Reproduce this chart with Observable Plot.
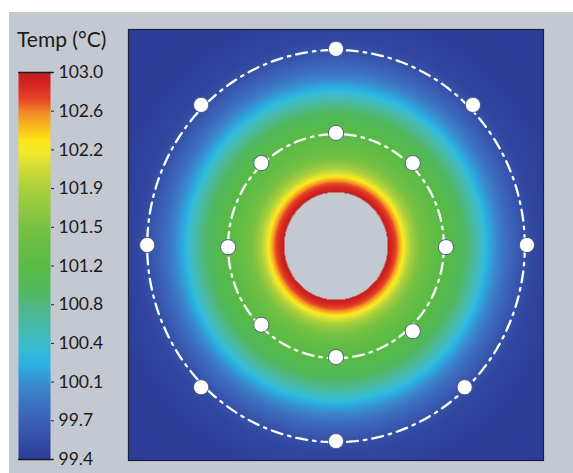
<!DOCTYPE html>
<html>
<head>
<meta charset="utf-8">
<script src="https://cdn.jsdelivr.net/npm/d3@7"></script>
<script src="https://cdn.jsdelivr.net/npm/@observablehq/plot@0.6"></script>
<style>
  html, body { margin: 0; padding: 0; background: #ffffff; }
  #wrap { position: relative; width: 573px; height: 473px; overflow: hidden; background: #ffffff; }
  #panel { position: absolute; left: 9px; top: 12px; width: 564px; height: 461px; background: #c4c8d1; }
  #title { position: absolute; left: 17px; top: 26px; font-family: Lato, "Open Sans", sans-serif; font-size: 21px; color: #1a1a1a; white-space: nowrap; }
  .abs { position: absolute; left: 0; top: 0; }
</style>
</head>
<body>
<div id="wrap">
  <div id="panel"></div>
  <div id="title">Temp (°C)</div>
  <div id="bar" class="abs"></div>
  <div id="main" class="abs"></div>
</div>
<script>
// ---- Data ----
// colour bar tick labels (bottom to top, evenly spaced on the bar)
const tickLabels = [99.4, 99.7, 100.1, 100.4, 100.8, 101.2, 101.5, 101.9, 102.2, 102.6, 103.0];
const tempMin = 99.4;
const tempMax = 103.0;

// colour stops of the rainbow bar
const stopTemps = [99.4, 99.73, 99.9, 100.1, 100.27, 100.41, 100.6, 100.83, 100.97, 101.18, 101.55, 101.91, 102.13, 102.27, 102.37, 102.5, 102.63, 102.74, 102.88, 103.0];
const stopColors = ["#2d3c96", "#3a5db3", "#3c6fbf", "#3a8ccf", "#2aaee2", "#36bcd8", "#45bbb2", "#50b884", "#4fb85c", "#58ba46", "#76c143", "#a9cf3d", "#d4de35", "#f2ea2a", "#fde619", "#f8b81e", "#f28a2a", "#e84a24", "#d82621", "#c01f1f"];

// radial temperature profile (distance from hole centre, plot units -> °C)
const profileR = [25, 26.5, 29, 31, 33, 36, 40, 46, 55, 62, 66, 70, 74, 78, 83, 89, 96, 110, 145];
const profileT = [103.0, 102.93, 102.75, 102.52, 102.25, 101.92, 101.6, 101.33, 101.15, 100.95, 100.75, 100.5, 100.25, 100.05, 99.85, 99.65, 99.5, 99.42, 99.4];

const holeRadius = 25;
const holeCenter = [0, -0.5];

// sensor positions (plot units)
const outerX = [0, 66, 92, 62, 0, -65, -91, -65];
const outerY = [91, 65, 0, -66, -91, -66, 0, 65];
const innerX = [0, 37, 53, 37, 0, -36, -52, -36];
const innerY = [52, 38, -1, -40, -52, -37, -1, 38];
// dash-dot guide ring radii
const ringRadii = [52, 91];

// ---- build tables ----
const sensors = [
  ...outerX.map((x, i) => ({x, y: outerY[i], ring: "outer"})),
  ...innerX.map((x, i) => ({x, y: innerY[i], ring: "inner"}))
];
const ringPts = ringRadii.flatMap((r) =>
  d3.range(0, 361, 2).map((a) => ({
    ring: r,
    x: holeCenter[0] + r * Math.cos((a * Math.PI) / 180),
    y: holeCenter[1] + r * Math.sin((a * Math.PI) / 180)
  }))
);
const profile = d3.scaleLinear().domain(profileR).range(profileT).clamp(true);
function field(x, y) {
  const r = Math.hypot(x - holeCenter[0], y - holeCenter[1]);
  if (r < holeRadius) return NaN;
  return profile(r);
}

const colorOpts = {type: "linear", domain: stopTemps, range: stopColors, interpolate: "rgb"};

// ---- main field ----
const main = Plot.plot({
  width: 573,
  height: 473,
  marginLeft: 128,
  marginRight: 30,
  marginTop: 29,
  marginBottom: 13,
  style: "background: transparent; overflow: visible;",
  x: {domain: [-100, 100], axis: null},
  y: {domain: [-100, 100], axis: null},
  color: colorOpts,
  marks: [
    Plot.raster({x1: -100, x2: 100, y1: -100, y2: 100, fill: field, pixelSize: 1}),
    Plot.line(ringPts, {x: "x", y: "y", z: "ring", stroke: "white", strokeWidth: 2.3, strokeDasharray: "11,6,2.5,6", curve: "linear-closed"}),
    Plot.dot(sensors, {x: "x", y: "y", r: 7.6, fill: "white", stroke: "#45557a", strokeWidth: 0.9}),
    Plot.frame({stroke: "#1c2040", strokeWidth: 1.2})
  ]
});
document.getElementById("main").appendChild(main);

// ---- colour bar ----
const tickPos = tickLabels.map((_, i) => tempMin + (i * (tempMax - tempMin)) / (tickLabels.length - 1));
const bar = Plot.plot({
  width: 128,
  height: 473,
  marginLeft: 18,
  marginRight: 78,
  marginTop: 72,
  marginBottom: 14,
  style: "background: transparent; overflow: visible; font-family: Lato, 'Open Sans', sans-serif;",
  x: {domain: [0, 1], axis: null},
  y: {domain: [tempMin, tempMax], axis: null},
  color: colorOpts,
  marks: [
    Plot.raster({x1: 0, x2: 1, y1: tempMin, y2: tempMax, fill: (x, y) => y, pixelSize: 1}),
    Plot.ruleY([tempMin, tempMax], {x1: 0, x2: 1.1, stroke: "#1a1a2a", strokeWidth: 1.5}),
    Plot.axisY(tickPos, {
      anchor: "right",
      tickSize: 3,
      tickPadding: 5,
      stroke: "#222",
      fill: "#1a1a1a",
      fontSize: 17.5,
      tickFormat: (d) => tickLabels[tickPos.indexOf(d)].toFixed(1),
      label: null
    })
  ]
});
document.getElementById("bar").appendChild(bar);
</script>
</body>
</html>
